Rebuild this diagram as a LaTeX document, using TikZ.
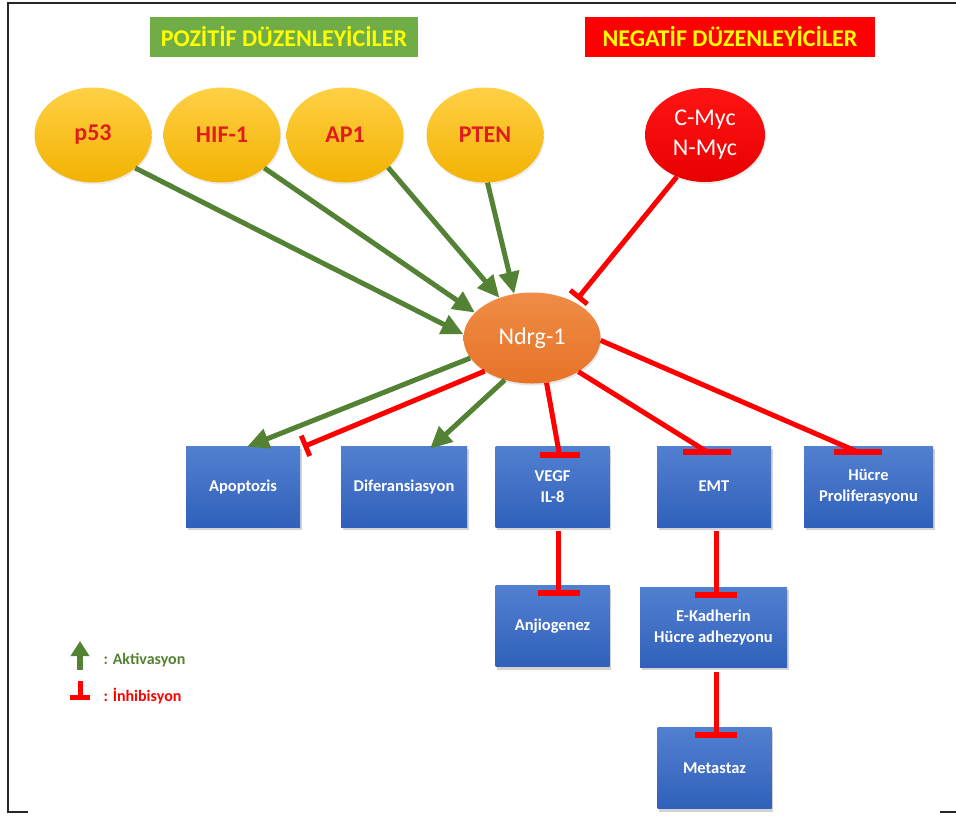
\documentclass[tikz,border=0pt]{standalone}
\usepackage{fontspec}
\setmainfont{Carlito}
\usetikzlibrary{arrows.meta,shapes.geometric,shadows}
\definecolor{gline}{RGB}{84,130,53}
\definecolor{tgreen}{RGB}{112,173,71}
\definecolor{tyellow}{RGB}{255,255,0}
\definecolor{goldtop}{RGB}{255,208,70}
\definecolor{goldbot}{RGB}{242,178,0}
\definecolor{etext}{RGB}{224,28,28}
\definecolor{orgtop}{RGB}{240,140,70}
\definecolor{orgbot}{RGB}{230,115,40}
\definecolor{bluetop}{RGB}{82,128,208}
\definecolor{bluebot}{RGB}{48,96,186}
\definecolor{redtop}{RGB}{255,20,20}
\definecolor{redbot}{RGB}{232,0,0}
\definecolor{ired}{RGB}{255,0,0}
\tikzset{
  titlebox/.style={rectangle, inner sep=0pt, text=tyellow, font=\fontsize{24}{26}\selectfont\bfseries},
  goldell/.style={ellipse, inner sep=0pt, minimum width=117pt, minimum height=95pt,
    top color=goldtop, bottom color=goldbot, draw=none, text=etext,
    font=\fontsize{24}{26}\selectfont\bfseries,
    drop shadow={shadow xshift=1pt, shadow yshift=-2pt, opacity=0.15}},
  bluebox/.style={rectangle, inner sep=0pt, minimum width=114pt, minimum height=81pt,
    top color=bluetop, bottom color=bluebot, draw=none, text=white, align=center,
    font=\fontsize{16.5}{21}\selectfont\bfseries,
    drop shadow={shadow xshift=1.5pt, shadow yshift=-3pt, opacity=0.35}},
  act/.style={draw=gline, line width=5pt, -{Triangle[length=22pt,width=20pt]}},
  inh/.style={draw=ired, line width=5pt, -{Bar[width=22pt]}},
  inhline/.style={draw=ired, line width=5pt},
  tbar/.style={draw=ired, line width=6pt},
}
\begin{document}
\begin{tikzpicture}[x=1pt,y=-1pt]
\useasboundingbox (0,0) rectangle (956,815);
% frame
\draw[line width=2.5pt, black!85] (956,3) -- (8,3) -- (8,812) -- (28,812);
\draw[line width=2.5pt, black!85] (940,812) -- (956,812);

% titles
\node[titlebox, fill=tgreen, minimum width=268pt, minimum height=40pt] (tpos) at (284,37) {POZİTİF DÜZENLEYİCİLER};
\node[titlebox, fill=ired, minimum width=290pt, minimum height=40pt] (tneg) at (730,37) {NEGATİF DÜZENLEYİCİLER};

% regulators
\node[goldell] (p53) at (93,135) {p53};
\node[goldell] (hif) at (222,135) {HIF-1};
\node[goldell] (ap1) at (345,135) {AP1};
\node[goldell] (pten) at (485,135) {PTEN};
\node[ellipse, inner sep=0pt, minimum width=120pt, minimum height=94pt, top color=redtop, bottom color=redbot,
  text=white, align=center, font=\fontsize{24}{30}\selectfont,
  drop shadow={shadow xshift=1pt, shadow yshift=-2pt, opacity=0.15}] (myc) at (705,135) {C-Myc\\N-Myc};

% central
\node[ellipse, inner sep=0pt, minimum width=137pt, minimum height=91pt, top color=orgtop, bottom color=orgbot,
  text=white, font=\fontsize{24}{26}\selectfont,
  drop shadow={shadow xshift=1pt, shadow yshift=-2pt, opacity=0.2}] (ndrg) at (532,338) {Ndrg-1};

% targets
\node[bluebox] (apo) at (243,486.5) {Apoptozis};
\node[bluebox, minimum width=126pt] (dif) at (404,486.5) {Diferansiasyon};
\node[bluebox] (vegf) at (552.5,486.5) {VEGF\\IL-8};
\node[bluebox] (emt) at (714,486.5) {EMT};
\node[bluebox, minimum width=129pt] (hucre) at (868.5,486.5) {Hücre\\Proliferasyonu};
\node[bluebox] (anj) at (552.5,626) {Anjiogenez};
\node[bluebox, minimum width=147pt, minimum height=80pt] (ekad) at (713.5,627) {E-Kadherin\\Hücre adhezyonu};
\node[bluebox] (met) at (714.5,768) {Metastaz};

% activations into Ndrg-1
\draw[act] (p53.-38) -- (ndrg.177);
\draw[act] (hif.-38) -- (ndrg.156);
\draw[act] (ap1.-37) -- (ndrg.129);
\draw[act] (pten.-87) -- (ndrg.112);
% inhibition into Ndrg-1
\draw[inh, shorten >=4pt] (myc.236) -- (ndrg.40);

% outputs
\draw[act] (ndrg.198) -- ([shift={(4,1)}]apo.north);
\draw[inh] (ndrg.215) -- ([shift={(3,1)}]apo.north east);
\draw[act] (ndrg.237) -- ([shift={(26,3)}]dif.north);

\coordinate (vbar) at ([shift={(7,9)}]vegf.north);
\draw[inhline] (ndrg.-72) -- (vbar);
\draw[tbar] ([xshift=-20pt]vbar) -- ([xshift=20pt]vbar);

\coordinate (ebar1) at ([shift={(-7,6)}]emt.north);
\draw[inhline] (ndrg.-36) -- (ebar1);
\draw[tbar] ([xshift=-24pt]ebar1) -- ([xshift=24pt]ebar1);

\coordinate (hbar) at ([shift={(-11,6)}]hucre.north);
\draw[inhline] (ndrg.-2) -- (hbar);
\draw[tbar] ([xshift=-24pt]hbar) -- ([xshift=24pt]hbar);

% vertical inhibitions
\coordinate (abar) at ([shift={(6,8)}]anj.north);
\draw[inhline, shorten <=4pt] (vegf.south -| abar) -- (abar);
\draw[tbar] ([xshift=-21pt]abar) -- ([xshift=21pt]abar);

\coordinate (kbar) at ([shift={(2.5,8)}]ekad.north);
\draw[inhline, shorten <=4pt] (emt.south -| kbar) -- (kbar);
\draw[tbar] ([xshift=-21pt]kbar) -- ([xshift=21pt]kbar);

\coordinate (mbar) at ([shift={(1.5,8)}]met.north);
\draw[inhline, shorten <=5pt] (ekad.south -| mbar) -- (mbar);
\draw[tbar] ([xshift=-21pt]mbar) -- ([xshift=21pt]mbar);

% legend
\node[anchor=west, text=gline, font=\fontsize{16}{18}\selectfont\bfseries] (lact) at (100,660) {: Aktivasyon};
\node[anchor=west, text=ired, font=\fontsize{16}{18}\selectfont\bfseries] (linh) at (100,696) {: İnhibisyon};
\coordinate (la1) at (80,670);
\coordinate (la2) at (80,641);
\draw[draw=gline, line width=6pt, -{Triangle[length=15pt,width=18pt]}] (la1) -- (la2);
\coordinate (li1) at (80,681);
\coordinate (li2) at (80,697);
\draw[inhline] (li1) -- (li2);
\draw[tbar, line width=5pt] ([xshift=-10pt]li2) -- ([xshift=10pt]li2);
\end{tikzpicture}
\end{document}
